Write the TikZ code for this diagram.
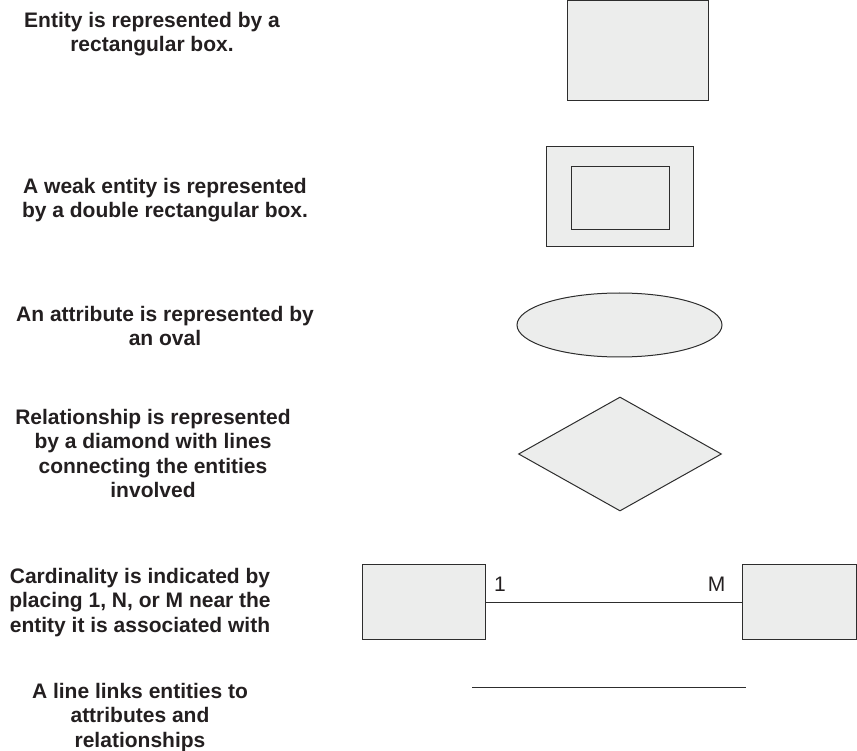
\documentclass[tikz,border=0pt]{standalone}
\usepackage{fontspec}
\setmainfont{Liberation Sans}
\usepackage{tikz}
\usetikzlibrary{shapes.geometric}
\definecolor{erfill}{RGB}{236,237,236}
\definecolor{erline}{RGB}{45,45,45}
\definecolor{ertext}{RGB}{35,31,32}

\begin{document}
\begin{tikzpicture}[
  x=1pt, y=-1pt,
  desc/.style={anchor=north, inner sep=0pt, align=center, text=ertext,
               font=\bfseries\fontsize{21}{24.5}\selectfont},
  ent/.style={rectangle, draw=erline, fill=erfill, line width=1pt, inner sep=0pt},
  card/.style={inner sep=0pt, text=ertext, font=\fontsize{21}{24}\selectfont},
  link/.style={draw=erline, line width=0.9pt},
]
\useasboundingbox (0,0) rectangle (857,751);

% descriptions
\node[desc] (t1) at (152,12)  {Entity is represented by a\\rectangular box.};
\node[desc] (t2) at (165,178) {A weak entity is represented\\by a double rectangular box.};
\node[desc] (t3) at (165,306) {An attribute is represented by\\an oval};
\node[desc] (t4) at (153,409) {Relationship is represented\\by a diamond with lines\\connecting the entities\\involved};
\node[desc] (t5) at (140,568) {Cardinality is indicated by\\placing 1, N, or M near the\\entity it is associated with};
\node[desc] (t6) at (140,683) {A line links entities to\\attributes and\\relationships};

% symbols
\node[ent, minimum width=141pt, minimum height=100pt] (entity) at (637.5,51) {};

\node[ent, minimum width=147pt, minimum height=100pt] (weak)   at (619.5,197) {};
\node[ent, minimum width=98pt,  minimum height=63pt]  (weakin) at (620,198.5) {};
\draw[erline, line width=1.8pt] ([yshift=2pt]weakin.east) -- ([yshift=-7pt]weakin.east);

\node[ent, ellipse, minimum width=205pt, minimum height=64pt]  (attr) at (619.5,325) {};
\node[ent, diamond, minimum width=203pt, minimum height=114pt] (rel)  at (620,454) {};

\node[ent, minimum width=123pt, minimum height=75pt] (one)  at (423.5,602) {};
\node[ent, minimum width=114pt, minimum height=75pt] (many) at (799,602) {};
\draw[link] (one.east) -- (many.west);
\node[card] (lone)  at (500,584)   {1};
\node[card] (lmany) at (716.5,584) {M};

\coordinate (lnA) at (472,687);
\coordinate (lnB) at (746,687);
\draw[link] (lnA) -- (lnB);

\end{tikzpicture}
\end{document}
